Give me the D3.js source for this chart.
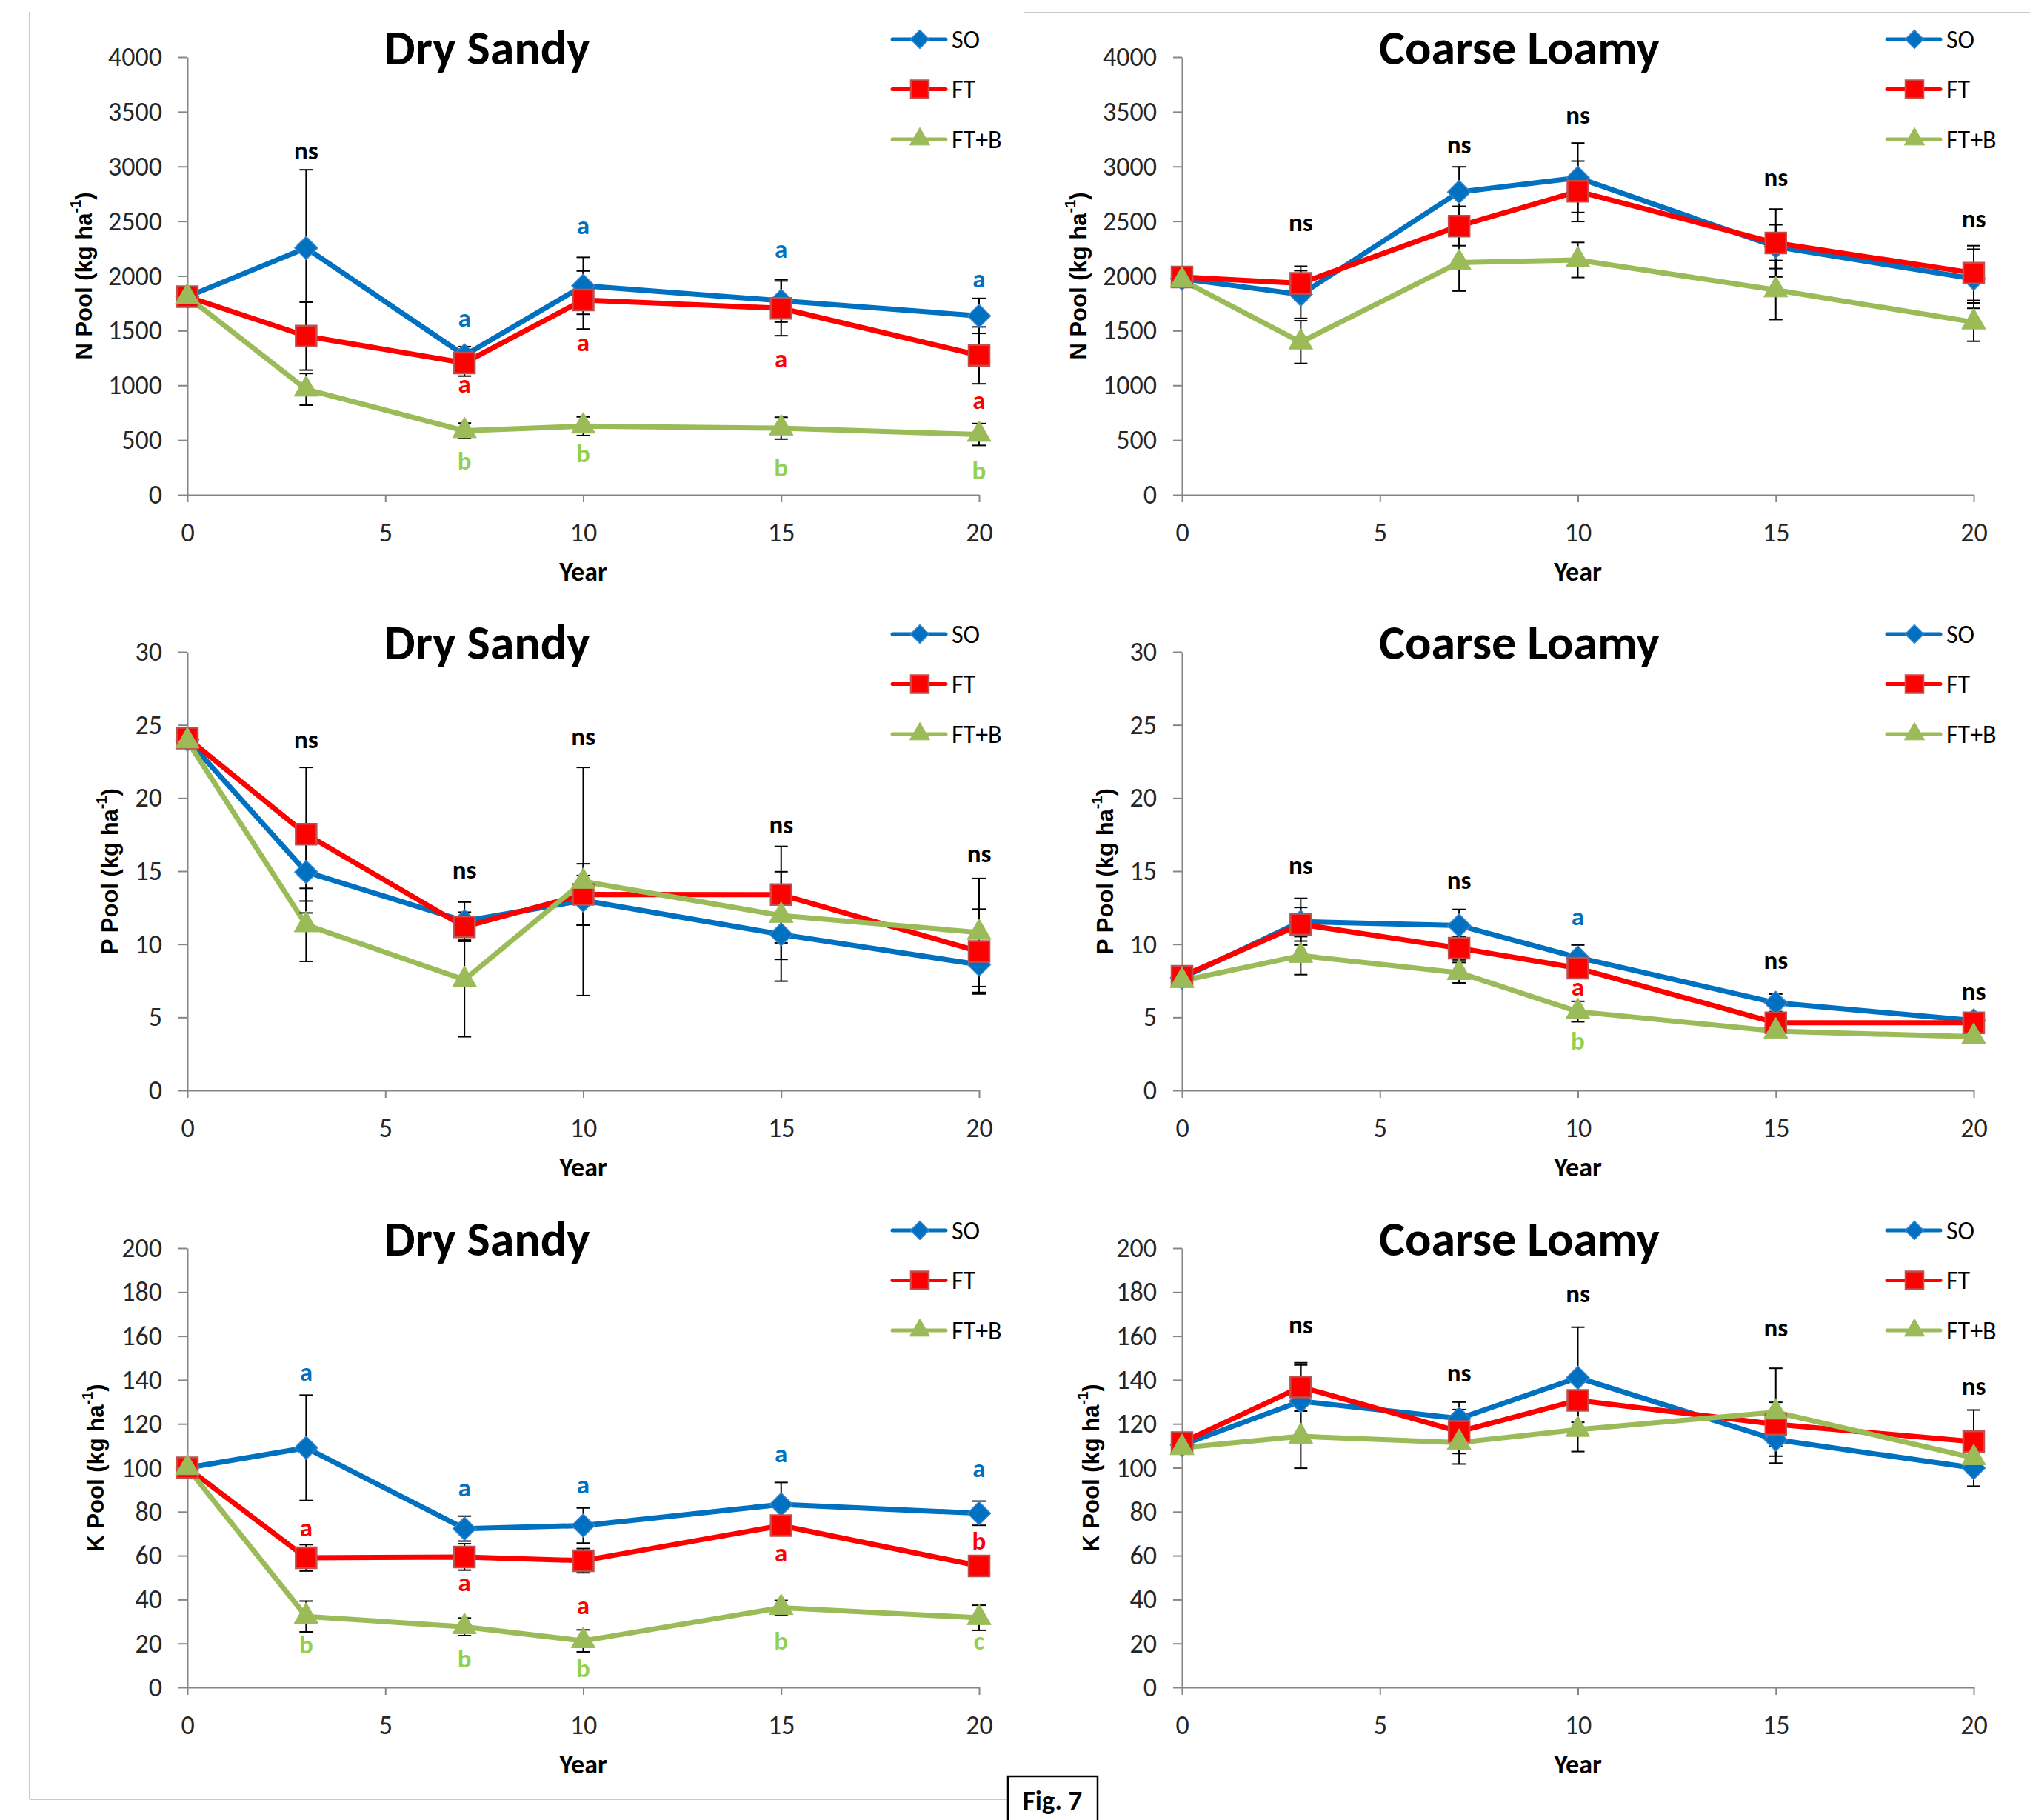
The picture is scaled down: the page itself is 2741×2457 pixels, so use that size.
<!DOCTYPE html>
<html>
<head>
<meta charset="utf-8">
<script src="https://cdn.jsdelivr.net/npm/d3@7.9.0/dist/d3.min.js"></script>
<style>
  body { margin: 0; background: #fff; }
  svg { display: block; }
  .tick text { font-family: Carlito, Calibri, Lato, sans-serif; font-size: 36px; fill: #262626; }
  .axis path, .axis line { stroke: #868686; stroke-width: 2; }
</style>
</head>
<body>
<div id="chart"></div>
<script>
const years = [0, 3, 7, 10, 15, 20];
const seriesNames = ["SO", "FT", "FT+B"];
const xTicks = [0, 5, 10, 15, 20];

const nTicks = d3.range(0, 4001, 500);
const pTicks = d3.range(0, 31, 5);
const kTicks = d3.range(0, 201, 20);

// N pool, Dry Sandy
const nSandyMean = [
  [1810, 2255, 1274, 1910, 1773, 1635],
  [1810, 1450, 1205, 1780, 1704, 1274],
  [1810, 964, 585, 627, 609, 551],
];
const nSandySE = [
  [0, 715, 80, 260, 195, 160],
  [0, 310, 120, 265, 250, 260],
  [0, 145, 70, 85, 100, 100],
];
const nSandyLetters = [
  [3, 3150, "ns", -1],
  [7, 1618, "a", 0], [7, 1015, "a", 1], [7, 310, "b", 2],
  [10, 2461, "a", 0], [10, 1394, "a", 1], [10, 379, "b", 2],
  [15, 2244, "a", 0], [15, 1246, "a", 1], [15, 248, "b", 2],
  [20, 1979, "a", 0], [20, 867, "a", 1], [20, 224, "b", 2],
];

// N pool, Coarse Loamy
const nLoamyMean = [
  [1975, 1830, 2767, 2897, 2267, 1974],
  [1990, 1933, 2456, 2773, 2301, 2026],
  [1960, 1395, 2122, 2146, 1871, 1578],
];
const nLoamySE = [
  [0, 218, 230, 317, 200, 270],
  [0, 155, 180, 276, 310, 250],
  [0, 195, 260, 160, 270, 175],
];
const nLoamyLetters = [
  [3, 2491, "ns", -1], [7, 3204, "ns", -1], [10, 3473, "ns", -1],
  [15, 2904, "ns", -1], [20, 2525, "ns", -1],
];

// P pool, Dry Sandy
const pSandyMean = [
  [24.0, 14.94, 11.58, 13.0, 10.67, 8.6],
  [24.1, 17.52, 11.19, 13.4, 13.39, 9.5],
  [23.9, 11.32, 7.57, 14.29, 11.96, 10.8],
];
const pSandySE = [
  [0, 2.8, 1.3, 1.7, 3.2, 1.9],
  [0, 4.57, 1.0, 2.1, 3.3, 2.9],
  [0, 2.5, 3.9, 7.8, 3.0, 3.7],
];
const pSandyLetters = [
  [3, 24.0, "ns", -1], [7, 15.1, "ns", -1], [10, 24.2, "ns", -1],
  [15, 18.2, "ns", -1], [20, 16.2, "ns", -1],
];

// P pool, Coarse Loamy
const pLoamyMean = [
  [7.7, 11.54, 11.28, 9.09, 5.99, 4.78],
  [7.8, 11.36, 9.73, 8.36, 4.62, 4.62],
  [7.5, 9.22, 8.05, 5.39, 4.05, 3.67],
];
const pLoamySE = [
  [0, 1.6, 1.1, 0.85, 0.6, 0.3],
  [0, 1.15, 0.8, 0.6, 0.3, 0.3],
  [0, 1.3, 0.7, 0.7, 0.3, 0.3],
];
const pLoamyLetters = [
  [3, 15.4, "ns", -1], [7, 14.4, "ns", -1],
  [10, 11.9, "a", 0], [10, 7.1, "a", 1], [10, 3.4, "b", 2],
  [15, 8.9, "ns", -1], [20, 6.8, "ns", -1],
];

// K pool, Dry Sandy
const kSandyMean = [
  [100, 109.1, 72.3, 73.7, 83.3, 79.3],
  [100, 59.0, 59.4, 57.7, 73.7, 55.3],
  [100, 32.3, 27.6, 21.2, 36.3, 31.7],
];
const kSandySE = [
  [0, 24, 5.7, 8, 10, 5.5],
  [0, 6, 6, 5.5, 3, 2],
  [0, 7, 4, 5, 3.3, 5.7],
];
const kSandyLetters = [
  [3, 143.8, "a", 0], [3, 72.8, "a", 1], [3, 19.4, "b", 2],
  [7, 91.2, "a", 0], [7, 47.9, "a", 1], [7, 13.3, "b", 2],
  [10, 92.5, "a", 0], [10, 37.4, "a", 1], [10, 8.7, "b", 2],
  [15, 106.5, "a", 0], [15, 61.4, "a", 1], [15, 21.2, "b", 2],
  [20, 99.9, "a", 0], [20, 66.7, "b", 1], [20, 21.2, "c", 2],
];

// K pool, Coarse Loamy
const kLoamyMean = [
  [110.4, 130.3, 122.4, 141.0, 112.8, 99.9],
  [111.5, 136.8, 116.5, 130.7, 119.8, 111.9],
  [109.1, 114.3, 111.5, 117.4, 125.3, 104.5],
];
const kLoamySE = [
  [0, 16.5, 7.5, 23, 10.7, 8.3],
  [0, 11, 10, 10, 10, 14.4],
  [0, 14.5, 9.8, 10, 20, 3],
];
const kLoamyLetters = [
  [3, 165.3, "ns", -1], [7, 143.2, "ns", -1], [10, 179.5, "ns", -1],
  [15, 163.9, "ns", -1], [20, 137.3, "ns", -1],
];

const lineColors = ["#0070C0", "#FF0000", "#9BBB59"];
const letterColors = ["#0070C0", "#FF0000", "#92D050"];

const W = 2741, H = 2457;
const colX = [253, 1596];
const plotW = 1069;
const rowTop = [77, 880, 1685];
const rowBottom = [668, 1472, 2278];

const panels = [
  { row: 0, col: 0, title: "Dry Sandy", el: "N", ticks: nTicks, max: 4000, mean: nSandyMean, se: nSandySE, letters: nSandyLetters, labelOff: -140 },
  { row: 0, col: 1, title: "Coarse Loamy", el: "N", ticks: nTicks, max: 4000, mean: nLoamyMean, se: nLoamySE, letters: nLoamyLetters, labelOff: -140 },
  { row: 1, col: 0, title: "Dry Sandy", el: "P", ticks: pTicks, max: 30, mean: pSandyMean, se: pSandySE, letters: pSandyLetters, labelOff: -105 },
  { row: 1, col: 1, title: "Coarse Loamy", el: "P", ticks: pTicks, max: 30, mean: pLoamyMean, se: pLoamySE, letters: pLoamyLetters, labelOff: -104 },
  { row: 2, col: 0, title: "Dry Sandy", el: "K", ticks: kTicks, max: 200, mean: kSandyMean, se: kSandySE, letters: kSandyLetters, labelOff: -124 },
  { row: 2, col: 1, title: "Coarse Loamy", el: "K", ticks: kTicks, max: 200, mean: kLoamyMean, se: kLoamySE, letters: kLoamyLetters, labelOff: -123 },
];

const svg = d3.select("#chart").append("svg").attr("width", W).attr("height", H);

const textFont = "Carlito, Calibri, Lato, sans-serif";

// page frame lines
svg.append("line").attr("x1", 40).attr("x2", 40).attr("y1", 16).attr("y2", 2429)
  .attr("stroke", "#c8c8c8").attr("stroke-width", 2);
svg.append("line").attr("x1", 40).attr("x2", 1361).attr("y1", 2429).attr("y2", 2429)
  .attr("stroke", "#c8c8c8").attr("stroke-width", 2);
svg.append("line").attr("x1", 1383).attr("x2", W).attr("y1", 17).attr("y2", 17)
  .attr("stroke", "#c8c8c8").attr("stroke-width", 2);

function markerPath(i, big) {
  if (i === 0) return d3.symbol(d3.symbolSquare, big ? 480 : 310)();
  if (i === 1) return d3.symbol(d3.symbolSquare, big ? 784 : 576)();
  return d3.symbol(d3.symbolTriangle, big ? 450 : 320)();
}

function drawMarker(g, i, x, y, big) {
  const p = g.append("path")
    .attr("d", markerPath(i, big))
    .attr("fill", lineColors[i]);
  if (i === 0) {
    p.attr("transform", `translate(${x},${y}) rotate(45)`)
      .attr("stroke", "#3d86cf").attr("stroke-width", 1.5);
  } else if (i === 1) {
    p.attr("transform", `translate(${x},${y})`)
      .attr("stroke", "#C0504D").attr("stroke-width", 2.5);
  } else {
    p.attr("transform", `translate(${x},${y})`)
      .attr("stroke", "#9BBB59").attr("stroke-width", 1);
  }
}

panels.forEach((pn) => {
  const x0 = colX[pn.col];
  const x = d3.scaleLinear().domain([0, 20]).range([x0, x0 + plotW]);
  const y = d3.scaleLinear().domain([0, pn.max]).range([rowBottom[pn.row], rowTop[pn.row]]);
  const g = svg.append("g");

  // axes
  g.append("g").attr("class", "axis")
    .attr("transform", `translate(${x0},0)`)
    .call(d3.axisLeft(y).tickValues(pn.ticks).tickFormat(d3.format("d"))
      .tickSize(12).tickSizeOuter(0).tickPadding(22));
  g.append("g").attr("class", "axis")
    .attr("transform", `translate(0,${y(0)})`)
    .call(d3.axisBottom(x).tickValues(xTicks).tickSize(10).tickSizeOuter(0).tickPadding(27));

  // title
  g.append("text")
    .attr("x", x0 + 266).attr("y", rowTop[pn.row] + 10)
    .attr("font-family", textFont).attr("font-weight", "bold")
    .attr("font-size", 66).attr("fill", "#000")
    .text(pn.title);

  // x axis title
  g.append("text")
    .attr("x", x(10)).attr("y", y(0) + 104)
    .attr("text-anchor", "middle").attr("dominant-baseline", "central")
    .attr("font-family", textFont).attr("font-weight", "bold")
    .attr("font-size", 36).attr("fill", "#000")
    .text("Year");

  // y axis title
  const cy = (rowTop[pn.row] + rowBottom[pn.row]) / 2;
  const yl = g.append("text")
    .attr("transform", `translate(${x0 + pn.labelOff},${cy}) rotate(-90)`)
    .attr("text-anchor", "middle").attr("dominant-baseline", "central")
    .attr("font-family", "'Liberation Sans', Arial, sans-serif").attr("font-weight", "bold")
    .attr("font-size", 31).attr("fill", "#000");
  yl.append("tspan").text(pn.el + " Pool (kg ha");
  yl.append("tspan").attr("font-size", 20).attr("dy", -11).text("-1");
  yl.append("tspan").attr("dy", 11).text(")");

  // lines
  const line = d3.line().x((d, j) => x(years[j])).y((d) => y(d));
  pn.mean.forEach((vals, i) => {
    g.append("path").datum(vals)
      .attr("d", line)
      .attr("fill", "none")
      .attr("stroke", lineColors[i])
      .attr("stroke-width", 7)
      .attr("stroke-linejoin", "round")
      .attr("stroke-linecap", "round");
  });

  // error bars
  pn.mean.forEach((vals, i) => {
    vals.forEach((v, j) => {
      const e = pn.se[i][j];
      if (!e) return;
      const cx = x(years[j]);
      const eb = g.append("g").attr("stroke", "#000").attr("stroke-width", 2);
      eb.append("line").attr("x1", cx).attr("x2", cx).attr("y1", y(v - e)).attr("y2", y(v + e));
      eb.append("line").attr("x1", cx - 9).attr("x2", cx + 9).attr("y1", y(v + e)).attr("y2", y(v + e));
      eb.append("line").attr("x1", cx - 9).attr("x2", cx + 9).attr("y1", y(v - e)).attr("y2", y(v - e));
    });
  });

  // markers
  pn.mean.forEach((vals, i) => {
    vals.forEach((v, j) => drawMarker(g, i, x(years[j]), y(v), true));
  });

  // significance letters
  pn.letters.forEach(([yr, val, txt, si]) => {
    g.append("text")
      .attr("x", x(yr)).attr("y", y(val))
      .attr("text-anchor", "middle").attr("dominant-baseline", "central")
      .attr("font-family", textFont).attr("font-weight", "bold")
      .attr("font-size", 35)
      .attr("fill", si < 0 ? "#000" : letterColors[si])
      .text(txt);
  });

  // legend
  seriesNames.forEach((name, i) => {
    const ly = rowTop[pn.row] - 24 + i * 67.5;
    g.append("line")
      .attr("x1", x0 + 952).attr("x2", x0 + 1024)
      .attr("y1", ly).attr("y2", ly)
      .attr("stroke", lineColors[i]).attr("stroke-width", 5)
      .attr("stroke-linecap", "round");
    drawMarker(g, i, x0 + 989, ly, false);
    g.append("text")
      .attr("x", x0 + 1032).attr("y", ly)
      .attr("dominant-baseline", "central")
      .attr("font-family", textFont).attr("font-size", 34).attr("fill", "#000")
      .text(name);
  });
});

// figure tag
svg.append("rect")
  .attr("x", 1361).attr("y", 2398).attr("width", 121).attr("height", 80)
  .attr("fill", "#fff").attr("stroke", "#000").attr("stroke-width", 2.5);
svg.append("text")
  .attr("x", 1421).attr("y", 2443)
  .attr("text-anchor", "middle")
  .attr("font-family", textFont).attr("font-weight", "bold")
  .attr("font-size", 37).attr("fill", "#000")
  .text("Fig. 7");
</script>
</body>
</html>
